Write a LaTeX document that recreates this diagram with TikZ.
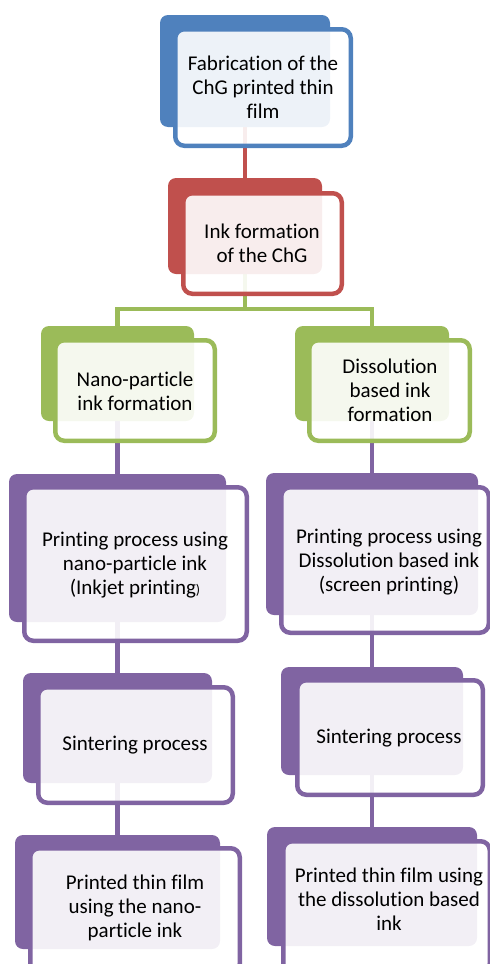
\documentclass[tikz,border=0pt]{standalone}
\usepackage{fontspec}
\setmainfont{Carlito}[Ligatures=NoCommon]
\usetikzlibrary{fit,backgrounds}
\definecolor{accBlue}{HTML}{4F81BD}
\definecolor{accRed}{HTML}{C0504D}
\definecolor{accGreen}{HTML}{9BBB59}
\definecolor{accPurple}{HTML}{8064A2}
\begin{document}
\begin{tikzpicture}[x=1pt,y=-1pt,
  backbox/.style={fill=#1, draw=none, rounded corners=8pt, inner sep=0pt, outer sep=0pt},
  frontbox/.style={draw=#1, fill=white, fill opacity=0.9, draw opacity=1,
    line width=4.5pt, rounded corners=9pt, inner sep=-2.25pt, outer sep=0pt},
  boxtext/.style={align=center, font=\fontsize{21}{24}\selectfont, text=black, inner sep=0pt},
  link/.style={draw=#1, line width=4.5pt}
]
\useasboundingbox (0,0) rectangle (490,964);

% back plates
\node[backbox=accBlue,   fit={(160,15) (330,127)}]  (b1)  {};
\node[backbox=accRed,    fit={(168,178) (322,274)}] (b2)  {};
\node[backbox=accGreen,  fit={(41,326) (194,421)}]  (b3L) {};
\node[backbox=accGreen,  fit={(295,326) (449,421)}] (b3R) {};
\node[backbox=accPurple, fit={(9,474) (226,622)}]   (b4L) {};
\node[backbox=accPurple, fit={(266,473) (478,615)}] (b4R) {};
\node[backbox=accPurple, fit={(23,673) (212,783)}]  (b5L) {};
\node[backbox=accPurple, fit={(281,667) (463,775)}] (b5R) {};
\node[backbox=accPurple, fit={(15,835) (220,949)}]  (b6L) {};
\node[backbox=accPurple, fit={(267,827) (477,946)}] (b6R) {};

\coordinate (split) at (245,309);

% connectors, kept underneath the plates
\begin{pgfonlayer}{background}
  \draw[link=accRed] (b1.center) -- (b2.center);
  \draw[link=accGreen] (b2.center) -- (split) -| (b3L.center);
  \draw[link=accGreen] (split) -| (b3R.center);
  \draw[link=accPurple] (b3L.center) -- (b4L.center) -- (b5L.center) -- (b6L.center);
  \draw[link=accPurple] (b3R.center) -- (b4R.center) -- (b5R.center) -- (b6R.center);
\end{pgfonlayer}

% front frames
\node[frontbox=accBlue,   fit={(173,27) (353,148)}]  (f1)  {};
\node[frontbox=accRed,    fit={(181,191) (344,296)}] (f2)  {};
\node[frontbox=accGreen,  fit={(53,338) (217,443)}]  (f3L) {};
\node[frontbox=accGreen,  fit={(307,338) (472,443)}] (f3R) {};
\node[frontbox=accPurple, fit={(22,485) (249,643)}]  (f4L) {};
\node[frontbox=accPurple, fit={(279,485) (491,635)}] (f4R) {};
\node[frontbox=accPurple, fit={(36,685) (235,805)}]  (f5L) {};
\node[frontbox=accPurple, fit={(295,678) (485,797)}] (f5R) {};
\node[frontbox=accPurple, fit={(28,846) (242,975)}]  (f6L) {};
\node[frontbox=accPurple, fit={(281,839) (492,975)}] (f6R) {};

% texts
\node[boxtext] (t1)  at (263,87)    {Fabrication of the\\ChG printed thin\\film};
\node[boxtext] (t2)  at (262,243.5) {Ink formation\\of the ChG};
\node[boxtext] (t3L) at (135,391)   {Nano-particle\\ink formation};
\node[boxtext] (t3R) at (390,390)   {Dissolution\\based ink\\formation};
\node[boxtext] (t4L) at (135,565)   {Printing process using\\nano-particle ink\\(Inkjet printing{\fontsize{14}{14}\selectfont)}};
\node[boxtext] (t4R) at (389,562)   {Printing process using\\Dissolution based ink\\(screen printing)};
\node[boxtext] (t5L) at (135,745)   {Sintering process};
\node[boxtext] (t5R) at (389,738)   {Sintering process};
\node[boxtext] (t6L) at (135,908)   {Printed thin film\\using the nano-\\particle ink};
\node[boxtext] (t6R) at (389,899)   {Printed thin film using\\the dissolution based\\ink};
\end{tikzpicture}
\end{document}
